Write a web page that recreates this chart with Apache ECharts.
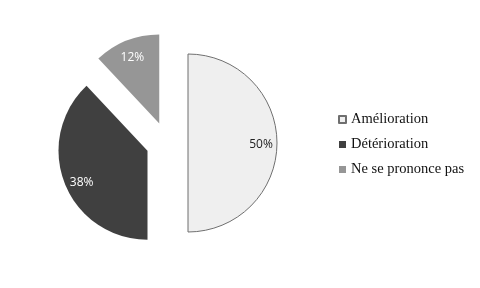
<!DOCTYPE html>
<html>
<head>
<meta charset="utf-8">
<script src="https://cdn.jsdelivr.net/npm/echarts@6/dist/echarts.min.js"></script>
<style>
html,body{margin:0;padding:0;background:#fff;}
#chart{width:480px;height:288px;}
</style>
</head>
<body>
<div id="chart"></div>
<script>
// Opinion shares, in percent
const categories = ['Amélioration', 'Détérioration', 'Ne se prononce pas'];
const values = [50, 38, 12];
const fills = ['#efefef', '#404040', '#969696'];
const labelColors = ['#222222', '#ffffff', '#ffffff'];

const center = [167, 143];
const radius = 89;
const gap = 21;

const chart = echarts.init(document.getElementById('chart'), null, { renderer: 'canvas' });

const sliceData = categories.map((name, i) => ({
  name: name,
  value: values[i],
  selected: true,
  itemStyle: {
    color: fills[i],
    borderColor: i === 0 ? '#6f6f6f' : fills[i],
    borderWidth: i === 0 ? 1 : 0
  }
}));

// Transparent ring that only carries the percentage labels
const labelData = categories.map((name, i) => ({
  name: name,
  value: values[i],
  selected: true,
  itemStyle: { color: 'rgba(0,0,0,0)' },
  label: { color: labelColors[i] }
}));

chart.setOption({
  animation: false,
  legend: {
    orient: 'vertical',
    left: 333,
    top: 107,
    itemWidth: 7,
    itemHeight: 7,
    itemGap: 10,
    icon: 'rect',
    data: categories,
    textStyle: {
      fontFamily: 'Liberation Serif',
      fontSize: 14.5,
      color: '#111'
    },
    selectedMode: false
  },
  series: [
    {
      type: 'pie',
      center: center,
      radius: [0, radius],
      startAngle: 90,
      clockwise: true,
      selectedMode: 'multiple',
      selectedOffset: gap,
      label: { show: false },
      labelLine: { show: false },
      emphasis: { disabled: true },
      silent: true,
      data: sliceData
    },
    {
      type: 'pie',
      center: center,
      radius: [51, radius],
      startAngle: 90,
      clockwise: true,
      selectedMode: 'multiple',
      selectedOffset: gap,
      silent: true,
      emphasis: { disabled: true },
      legendHoverLink: false,
      label: {
        show: true,
        position: 'inside',
        formatter: '{c}%',
        fontFamily: 'Open Sans',
        fontSize: 12
      },
      labelLayout: function (p) {
        return p.dataIndex === 1 ? { dx: 2, dy: 5 } : { dy: 2 };
      },
      labelLine: { show: false },
      data: labelData
    }
  ]
});
</script>
</body>
</html>
